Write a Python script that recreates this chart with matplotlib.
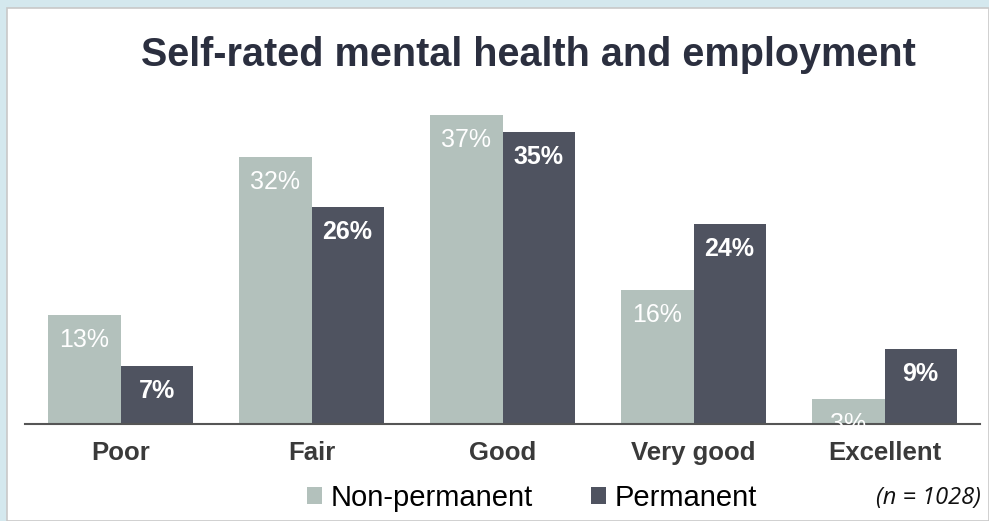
import numpy as np
import matplotlib
matplotlib.use("Agg")
import matplotlib.pyplot as plt
from matplotlib.patches import Rectangle

plt.rcParams["font.family"] = ["Liberation Sans", "DejaVu Sans"]

# ============ Data ============
categories = ["Poor", "Fair", "Good", "Very good", "Excellent"]
non_permanent = [13, 32, 37, 16, 3]
permanent = [7, 26, 35, 24, 9]
series_names = ["Non-permanent", "Permanent"]

C_NP = "#b3c1bc"
C_P = "#4f5360"
BG = "#d4e8ee"

fig = plt.figure(figsize=(9.89, 5.21), dpi=100)
fig.patch.set_facecolor(BG)
# white panel behind everything
fig.patches.append(Rectangle((7/989, 0), 1 - 7/989, 1 - 8/521, transform=fig.transFigure,
                             facecolor="white", edgecolor="#c8c8c8", linewidth=1.2, zorder=-10))

ax = fig.add_axes([25/989, 97/521, 955/989, 334/521])
ax.set_facecolor("none")
x = np.arange(len(categories))
w = 0.377
b1 = ax.bar(x - w/2, non_permanent, w, color=C_NP, label=series_names[0])
b2 = ax.bar(x + w/2, permanent, w, color=C_P, label=series_names[1])

for bars, vals, bold in [(b1, non_permanent, False), (b2, permanent, True)]:
    for b, v in zip(bars, vals):
        ax.annotate(f"{v}%", (b.get_x() + b.get_width()/2, v), xytext=(0, -18),
                    textcoords="offset points", ha="center", va="center",
                    fontsize=18, color="white", fontweight="bold" if bold else "normal")

ax.set_xlim(-0.5, 4.5)
ax.set_ylim(0, 40)
ax.set_yticks([])
ax.set_xticks(x)
ax.set_xticklabels(categories, fontsize=18.5, fontweight="bold", color="#3a3a3a")
ax.tick_params(axis="x", length=0, pad=12)
for s in ["top", "right", "left"]:
    ax.spines[s].set_visible(False)
ax.spines["bottom"].set_color("#555555")
ax.spines["bottom"].set_linewidth(1.5)

fig.text(0.534, 0.895, "Self-rated mental health and employment", ha="center", va="center",
         fontsize=28.5, fontweight="bold", color="#2b2f3f")

fig.legend(handles=[b1, b2], loc="center", bbox_to_anchor=(0.538, 0.044), ncol=2, frameon=False,
           fontsize=21, handlelength=0.5, handleheight=0.5, handletextpad=0.3,
           columnspacing=2.0)

fig.text(0.992, 0.044, "(n = 1028)", ha="right", va="center", fontsize=17,
         style="italic", family=["Open Sans", "DejaVu Sans"], color="#111111")

fig.savefig("out.png", dpi=100, facecolor=fig.get_facecolor())
